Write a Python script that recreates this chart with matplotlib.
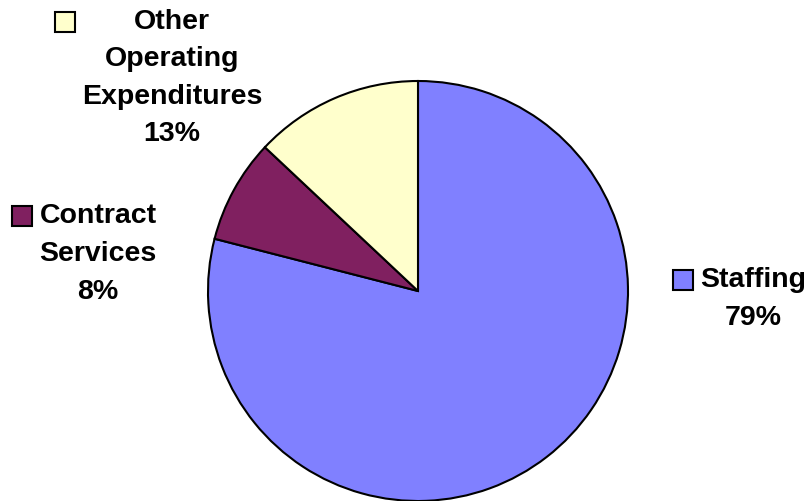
import matplotlib
matplotlib.use("Agg")
import matplotlib.pyplot as plt
from matplotlib.patches import Rectangle

categories = ["Staffing", "Contract\nServices", "Other\nOperating\nExpenditures"]
shares = [79, 8, 13]
colors = ["#8080FF", "#802060", "#FFFFCC"]
# label block centres (pixels, y from top)
label_pos = [(753, 299), (98, 254), (172, 78)]

W, H = 811, 502
fig = plt.figure(figsize=(W / 100, H / 100), dpi=100)
ax = fig.add_axes([0, 0, 1, 1])
ax.pie(shares, colors=colors, startangle=90, counterclock=False,
       center=(418, H - 292), radius=210,
       wedgeprops=dict(edgecolor="black", linewidth=1.5))
ax.set_xlim(0, W); ax.set_ylim(0, H)
ax.set_aspect("auto")
ax.axis("off")

fig.canvas.draw()
r = fig.canvas.get_renderer()
for name, val, col, (x, y) in zip(categories, shares, colors, label_pos):
    t = ax.text(x, H - y, f"{name}\n{val}%", ha="center", va="center",
                multialignment="center", fontsize=20.5, fontweight="bold",
                family="Liberation Sans", linespacing=1.58)
    bb = t.get_window_extent(renderer=r)
    # key square left of the text block, level with the first line
    ksz = 20
    ky = bb.y1 - 4 - ksz
    ax.add_patch(Rectangle((bb.x0 - 7 - ksz, ky), ksz, ksz, facecolor=col,
                           edgecolor="black", linewidth=1.5, clip_on=False))

fig.savefig("out.png", dpi=100)
